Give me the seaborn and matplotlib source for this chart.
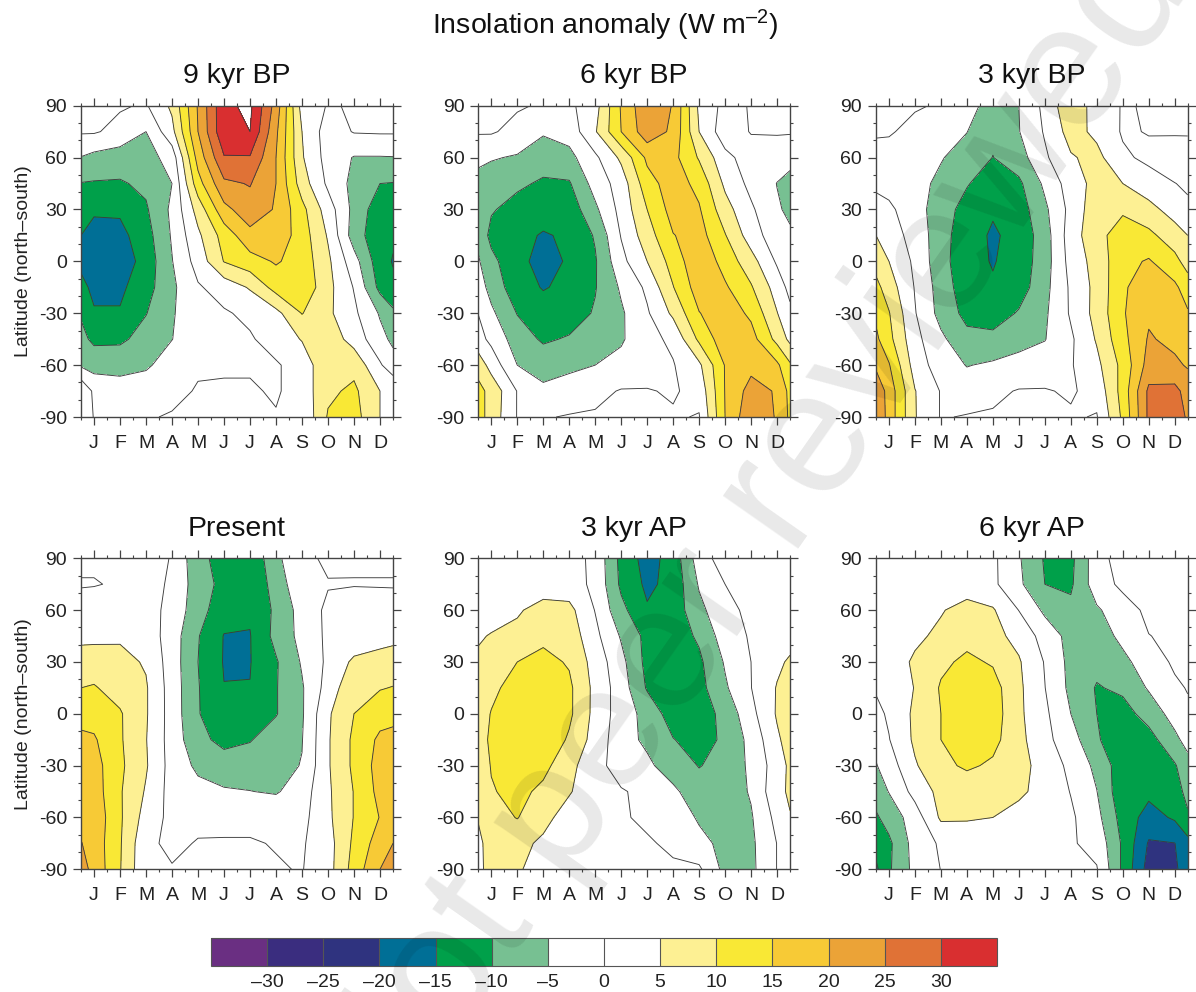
import numpy as np
import matplotlib
matplotlib.use("Agg")
import matplotlib.pyplot as plt
from matplotlib.colors import BoundaryNorm, ListedColormap
import seaborn as sns

# latitude rows, month columns (mid-month plus the two year edges)
lats = [90, 75, 60, 45, 30, 15, 0, -15, -30, -45, -60, -75, -90]
month_pos = [0, .5, 1.5, 2.5, 3.5, 4.5, 5.5, 6.5, 7.5, 8.5, 9.5, 10.5, 11.5, 12]
month_labels = ["J", "F", "M", "A", "M", "J", "J", "A", "S", "O", "N", "D"]
levels = [-35, -30, -25, -20, -15, -10, -5, 0, 5, 10, 15, 20, 25, 30, 35]
level_colors = ["#6a2f82", "#3a2d7f", "#2f337f", "#006f96", "#00a04a", "#77c092", "#ffffff",
                "#ffffff", "#fdf093", "#f9e835", "#f7ca36", "#eba337", "#e07236", "#d92f30"]
cbar_labels = ["–30", "–25", "–20", "–15", "–10", "–5", "0", "5", "10", "15", "20", "25", "30"]

kyr9_bp = [
    [.5, .5, .5, -.5, 6, 20.5, 34, 36, 23, 3, -.3, .3, .5, .5],
    [.5, .5, -1.5, -5, 3.5, 20, 34, 35, 21, 5, -2.5, .3, .5, .5],
    [-5.2, -6.5, -7.5, -7, -3, 17, 29.6, 29.6, 20, 5.5, -2, -5.3, -5.3, -5.2],
    [-10.2, -10.4, -10.5, -9, -5, 13, 24, 25.3, 20, 7.5, -1, -6.5, -10, -10.2],
    [-13, -14, -14.2, -10.6, -4, 7, 18.5, 23, 19.5, 11.5, 2.5, -6.5, -13, -13.3],
    [-15, -17.5, -16.5, -12, -4.5, 4, 12, 18.5, 18.5, 12.5, 4.5, -7.5, -13.5, -14.3],
    [-16, -19, -18, -13, -5.2, 2, 10.2, 13, 15.5, 13, 6, -3, -13, -15.3],
    [-13.8, -16, -16, -12, -6, -.5, 2, 5.5, 12, 14, 6.5, -.3, -11.5, -14],
    [-10.5, -14.6, -14.6, -10.2, -5.5, -1.5, -.5, 1, 3.5, 10.2, 6, 1, -5.5, -9],
    [-8.7, -11, -11, -8, -5.1, -1.5, -1, -.5, 2, 5.3, 8, 3, -3.5, -6],
    [-5.7, -7, -6.5, -5.8, -2.5, -.5, -.5, -.5, -.5, 2, 9, 8.5, .6, -3],
    [4.5, -1, -3, -2, -1, .3, .5, .5, -.5, 2, 9, 11, 5, 4.5],
    [4.5, -.3, -.3, -.3, .3, .3, .5, .5, .3, .5, 10.5, 12, 5, 4.5],
]
kyr6_bp = [
    [.5, .5, .5, -.5, -1, 3, 15.5, 24, 19.7, 4, -1.5, .3, .5, .5],
    [.5, .5, -1.5, -4.5, -3, 4.5, 15, 23, 19, 5, -3, .3, .5, .5],
    [-4.2, -4.6, -5.5, -7.5, -6.5, -1, 6, 16, 16.5, 9.5, 1.5, -2.5, -3, -4.2],
    [-6.2, -7.5, -9, -10.8, -10.5, -3, 2.2, 13, 17.5, 13.5, 4, -1.4, -5.1, -5.8],
    [-6.8, -9.5, -12, -13.5, -13, -6, 1.6, 10, 17, 15.5, 7, .8, -4.5, -5.8],
    [-6.2, -11.5, -14, -15.3, -14.5, -9.5, .3, 7.7, 14.8, 17, 10.3, 2.5, -3, -4.4],
    [-4.5, -8.5, -14, -16.2, -14.6, -10.5, -1.5, 5, 12, 19, 13, 7, -.7, -4.5],
    [-2.5, -6.8, -13, -15.3, -14, -10.3, -4.3, 1, 9.8, 17.5, 15.7, 10.5, 2.8, -1.5],
    [-.1, -4, -10.2, -13, -12.5, -9.5, -5.7, -.6, 6, 14.8, 18, 14, 5.2, 1.2],
    [1.7, -1.2, -7.5, -10.7, -9.5, -6.5, -5.6, -1.5, 1, 11, 18, 17, 8.5, 3.8],
    [8, 3, -5, -7, -6.2, -5, -3.5, -2.5, -.3, 4, 15.3, 18.5, 16, 10.7],
    [11.5, 8.5, -.2, -4, -2.5, -1.2, .3, .3, -.5, 1.5, 15.2, 22, 19.5, 13.5],
    [12, 8, -.2, -.3, .3, .5, .5, .5, .5, -.3, 15, 24, 19.5, 14],
]
kyr3_bp = [
    [.5, .5, .5, -.5, -1.5, -9, -5, 1.3, 9, 2.5, -.3, .3, .5, .5],
    [.5, .5, -1.5, -4, -4.9, -9, -5.2, .5, 7, 3.8, -.5, .2, .5, .5],
    [-1.5, -2, -3, -4.7, -7, -10.1, -7.2, -.8, 4.5, 6.5, .8, -1, -2.7, -2.5],
    [-.8, -1.8, -3.5, -6, -9.6, -13, -11, -4, 2.4, 6.7, 5, 2, .1, -.7],
    [1.5, 1, -3, -7.5, -12, -14.5, -12.5, -6, 1.5, 8.2, 9.3, 6.7, 2.8, .9],
    [5, 2.2, -1.7, -8, -13, -15.6, -13.5, -7.3, 2.5, 8.5, 12.3, 11.2, 7.3, 5],
    [8, 5, -1, -8.2, -13.3, -15.3, -13, -7.3, 1.8, 7, 13.5, 15.5, 11.5, 8],
    [11.5, 7.5, -.3, -7.2, -13, -14.5, -12.5, -6.5, .8, 6.5, 14.2, 18.2, 16, 12.5],
    [14, 10.3, .3, -6.7, -11.5, -12.7, -9.5, -5.8, .6, 6.7, 14.5, 19.2, 19, 15.5],
    [16, 11.5, 1.5, -4, -8.5, -8.5, -6.5, -5.2, -.8, 5.5, 13.5, 20.5, 18.7, 17],
    [19, 15.4, 2.7, -2.5, -5.2, -4.3, -3.5, -2.5, -.4, 3.7, 11.5, 22, 21, 19.5],
    [24, 18, 5.2, -.3, -2.5, -1, .3, .3, -.5, 1.5, 12, 26, 26.5, 23],
    [25, 18, 5.3, -.3, .3, .5, .5, .5, .5, -.3, 11, 26, 27, 24.5],
]
present = [
    [.3, .3, .3, 3, -.4, -8.5, -12, -14.5, -6, -1.5, 1, .3, .3, .3],
    [-.1, -.1, .2, 2.5, -1, -7.5, -11.5, -14, -8, -1, -.3, -.1, -.1, -.1],
    [.6, 1, 1.5, 2, -1.5, -8, -13, -14.4, -9, -3, 1, 1, .7, .6],
    [3.8, 3.8, 4.3, 3, -2.5, -9.7, -15.2, -15.2, -8.5, -3.5, 1, 1.5, 3, 3.7],
    [7.2, 7.5, 6.5, 4.5, -2.5, -10, -15.3, -15.2, -10.5, -4.5, 1, 6, 7, 7.2],
    [10, 10.4, 8, 5.5, -2.3, -9.7, -14.9, -14.9, -10.3, -5.5, 2, 9, 9.7, 10.2],
    [13, 13, 10.5, 5.5, -2.2, -9.7, -13.5, -13.5, -10.3, -5.6, 4.3, 10, 13, 13.5],
    [16.2, 15.6, 10.6, 5.2, -2.2, -8.5, -11.5, -10.3, -7.5, -5.2, 4.5, 11, 16, 16.5],
    [17, 17, 11, 5.5, -2, -6, -7.5, -7.5, -6.5, -4.8, 4.5, 11, 17, 17.5],
    [17.5, 17.5, 10.5, 4.5, -2, -3.5, -4.5, -4.9, -5.5, -2.5, 4.2, 10.2, 16.5, 18],
    [18.5, 18.5, 10.7, 3, -1.5, -1.2, -1, -1, -1, -1.5, 4, 10.2, 15.2, 18.7],
    [20.2, 18, 10.5, 1, -1, .3, .3, .3, -.2, -.5, 3, 11, 17.5, 20],
    [22, 18.5, 10.3, .8, .3, .3, .3, .3, .3, -.2, 3, 12, 20, 22],
]
kyr3_ap = [
    [.5, .5, .5, .5, 2, -1.2, -11.5, -17, -13, -2.5, 2.5, .5, .5, .5],
    [.5, .5, .5, 1.5, 2, -1, -11, -16, -13.5, -4.5, 0, .7, .6, .6],
    [2.2, 3, 4.2, 7.5, 6.5, -.2, -8.6, -14.5, -13, -6.3, -1.5, 1.2, .9, .7],
    [4.5, 5.3, 6.8, 8.8, 8, 1.3, -5.5, -11.5, -12.7, -9.2, -2.5, .5, 1.5, 3],
    [5.8, 7, 10, 11.5, 9.5, 3, -3.5, -11.5, -13, -11, -4.5, 0, 4, 5.7],
    [6.5, 8.5, 12.7, 14, 11, 3.6, -2.5, -10.5, -12.8, -11.7, -5.7, -.1, 5.3, 6.5],
    [7, 10.3, 13, 14.5, 11, 3.5, -2.4, -6.7, -12.5, -12.5, -8.5, -1.5, 5.5, 7.5],
    [7.5, 11, 13.5, 14, 9.3, 3, -3, -6, -9.8, -12.2, -9, -3.5, 4.2, 7],
    [6.7, 10.3, 13, 11.5, 6.5, 1.7, -2.2, -4, -7.5, -10.2, -8.5, -4, 2.5, 6],
    [6.5, 9.6, 11.5, 8.8, 5.5, 1.2, .4, -1.2, -4, -8, -8, -4.5, 3.5, 5.8],
    [5.3, 8, 10.2, 6.7, 2.5, .5, .3, -.5, -2, -5.6, -6.5, -5.5, 1.5, 4.7],
    [4, 6.8, 6.6, 4, .7, .3, .3, .3, -.5, -3.6, -6.3, -6, .1, 4],
    [4, 6.5, 6, 1.4, .5, .5, .5, .5, .4, .8, -6.5, -6.2, .1, 4],
]
kyr6_ap = [
    [.5, .5, .5, .5, .8, 1, -4.5, -10.5, -11.3, -2, 2.3, .5, .5, .5],
    [.5, .5, .5, .5, 1.5, 1, -4, -10, -10.8, -2.2, 1, .5, .5, .5],
    [.6, .8, 1.5, 4.5, 7.5, 5.5, -.1, -6, -8.8, -5.7, -2, 1, 1, .8],
    [.7, 1, 3.7, 6.4, 8.5, 6.5, 3.5, -2, -6.7, -7, -4, -.1, .8, 1],
    [1.5, 1.5, 6, 9, 11, 9.5, 5.5, -.3, -6.5, -8.5, -6, -3, .9, 1.5],
    [.5, 1.5, 5.2, 10.5, 14, 12, 6, .1, -6.2, -10.4, -9, -4.5, -1, .3],
    [-1.3, .7, 6, 10, 14.5, 12.5, 6, 1, -5, -10, -12, -8, -3, -1],
    [-3.5, -.2, 5.9, 10, 14, 11.5, 6.5, 1.3, -2.7, -9.5, -13, -12, -6.2, -3.3],
    [-5.3, -2.5, 4.5, 8.7, 10.8, 9.2, 6.5, 3.3, -1.3, -6.2, -13, -13.5, -10.5, -6.8],
    [-7.8, -4.8, 1.7, 6.5, 6.8, 6, 5.8, 3.5, -.2, -4.9, -13.5, -13.8, -13, -8],
    [-10.7, -8, -2.5, 5.8, 5.7, 5, 3.5, 1.7, .8, -3.5, -12, -17, -14.3, -11],
    [-13, -11, -3, .7, .7, .5, .5, .5, .5, -1.5, -10.8, -20.5, -20.1, -16.5],
    [-16, -10.7, -3.5, .1, .5, .5, .5, .5, .5, .3, -11, -22, -21, -17],
]

panels = [("9 kyr BP", kyr9_bp), ("6 kyr BP", kyr6_bp), ("3 kyr BP", kyr3_bp),
          ("Present", present), ("3 kyr AP", kyr3_ap), ("6 kyr AP", kyr6_ap)]

sns.set_theme(style="ticks")
plt.rcParams["font.family"] = ["Liberation Sans", "DejaVu Sans"]
plt.rcParams["mathtext.fontset"] = "custom"
plt.rcParams["mathtext.rm"] = "Liberation Sans"
plt.rcParams["mathtext.default"] = "regular"

W, H = 1196, 992
fig = plt.figure(figsize=(W / 100, H / 100), dpi=100)
colors = sns.color_palette(level_colors)
cmap = ListedColormap(colors)
norm = BoundaryNorm(levels, cmap.N)
edge = "#444444"

lefts = [81, 478.3, 876]
rights = [393, 790, 1187.7]
tops = [105.7, 558.3]
bottoms = [417, 869.3]

for i, (name, vals) in enumerate(panels):
    r, c = divmod(i, 3)
    ax = fig.add_axes([lefts[c] / W, 1 - bottoms[r] / H, (rights[c] - lefts[c]) / W, (bottoms[r] - tops[r]) / H])
    z = np.array(vals)
    ax.contourf(month_pos, lats, z, levels=levels, cmap=cmap, norm=norm)
    ax.contour(month_pos, lats, z, levels=levels, colors="#3c3c3c", linewidths=0.65, linestyles="solid")
    ax.set_xlim(0, 12)
    ax.set_ylim(-90, 90)
    ax.set_xticks(month_pos[1:-1])
    ax.set_xticklabels(month_labels)
    ax.set_xticks(range(0, 13), minor=True)
    ax.set_yticks(range(-90, 91, 30))
    ax.set_yticklabels([str(v) for v in range(-90, 91, 30)])
    ax.set_yticks(range(-90, 91, 10), minor=True)
    ax.tick_params(which="major", direction="out", length=6, width=0.9, color=edge, top=True, right=True,
                   labelsize=14, labelcolor="#222222", pad=4)
    ax.tick_params(axis="x", which="major", pad=7)
    ax.tick_params(which="minor", direction="out", length=2.5, width=0.8, color=edge, top=True, right=True)
    sns.despine(ax=ax, top=False, right=False)
    for s in ax.spines.values():
        s.set_color(edge)
        s.set_linewidth(1.0)
    ax.set_title(name, fontsize=20.5, color="#111111", pad=16)
    if c == 0:
        ax.set_ylabel("Latitude (north–south)", fontsize=14, color="#222222")
        ax.yaxis.set_label_coords((32 - 81) / 312, 0.5)

# colour bar
cax = fig.add_axes([211 / W, 1 - 966 / H, 786 / W, 28 / H])
sm = plt.cm.ScalarMappable(norm=norm, cmap=cmap)
cb = fig.colorbar(sm, cax=cax, orientation="horizontal", spacing="uniform", drawedges=True, ticks=levels[1:-1])
cb.ax.set_xticklabels(cbar_labels)
cb.ax.minorticks_off()
cb.ax.tick_params(length=0, labelsize=14, labelcolor="#222222", pad=6)
cb.dividers.set_color("#555555")
cb.dividers.set_linewidth(0.8)
cb.outline.set_edgecolor("#555555")
cb.outline.set_linewidth(0.8)

fig.text(605 / W, 1 - 25 / H, "Insolation anomaly (W m$^{–2}$)", ha="center", va="center", fontsize=20.5, color="#111111")

# watermark across the page
fig.text(750 / W, 1 - 540 / H, "Not peer reviewed", ha="center", va="center", rotation=55, fontsize=126,
         color="black", alpha=0.09, zorder=10)

fig.savefig("out.png", dpi=100, facecolor="white")
